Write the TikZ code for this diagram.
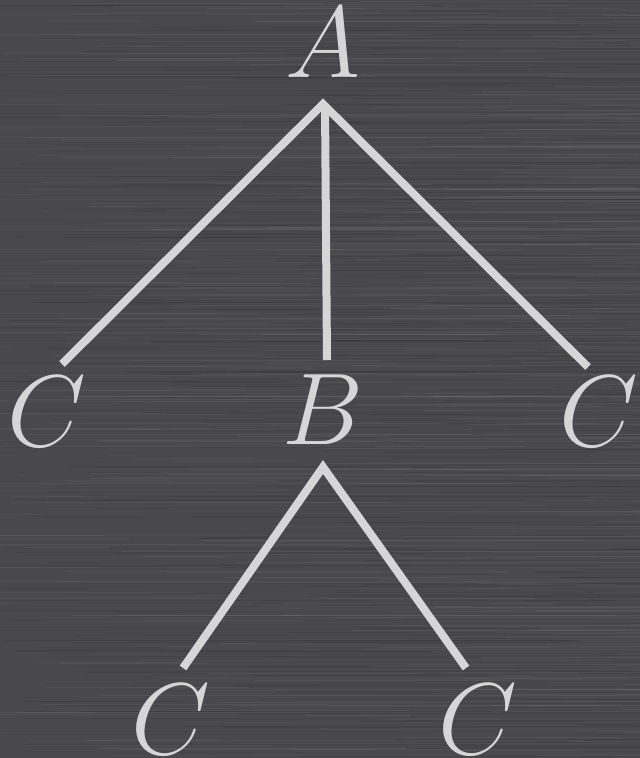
\documentclass[tikz,border=0pt]{standalone}
\definecolor{bgc}{HTML}{49494D}
\definecolor{fg}{HTML}{D6D6D6}
\tikzset{
  lbl/.style={text=fg, inner sep=0pt, anchor=base, scale=4.1, font=\fontsize{24.88}{30}\selectfont},
  edge/.style={draw=fg, line width=8pt, line join=miter, line cap=butt},
  streak/.style={line width=0.8pt}
}
\begin{document}
\begin{tikzpicture}[x=1pt,y=-1pt]
\fill[bgc] (0,0) rectangle (640,758);
\clip (0,0) rectangle (640,758);
\pgfmathsetseed{7}
\foreach \i in {1,...,600}{
  \pgfmathsetmacro\yy{rnd*758}
  \pgfmathsetmacro\xx{rnd*700-60}
  \pgfmathsetmacro\ll{80+rnd*500}
  \pgfmathsetmacro\oo{0.02+rnd*0.04}
  \draw[streak, white, opacity=\oo] (\xx,\yy) -- ++(\ll,0);
}
\foreach \i in {1,...,600}{
  \pgfmathsetmacro\yy{rnd*758}
  \pgfmathsetmacro\xx{rnd*700-60}
  \pgfmathsetmacro\ll{80+rnd*500}
  \pgfmathsetmacro\oo{0.03+rnd*0.05}
  \draw[streak, black, opacity=\oo] (\xx,\yy) -- ++(\ll,0);
}
% labels
\node[lbl] (A) at (323,77) {$A$};
\node[lbl] (B) at (323,444) {$B$};
\node[lbl] (Cl) at (47,446) {$C$};
\node[lbl] (Cr) at (599,446) {$C$};
\node[lbl] (Cbl) at (171,754) {$C$};
\node[lbl] (Cbr) at (478,754) {$C$};
% connector end points
\coordinate (aT) at (323,104);
\coordinate (aL) at (62,364);
\coordinate (aM) at (327,360);
\coordinate (aR) at (588,367);
\coordinate (bT) at (323,467);
\coordinate (bL) at (183,668);
\coordinate (bR) at (466,668);
\draw[edge] (aL) -- (aT) -- (aR);
\draw[edge] (325,104) -- (aM);
\draw[edge] (bL) -- (bT) -- (bR);
\end{tikzpicture}
\end{document}
